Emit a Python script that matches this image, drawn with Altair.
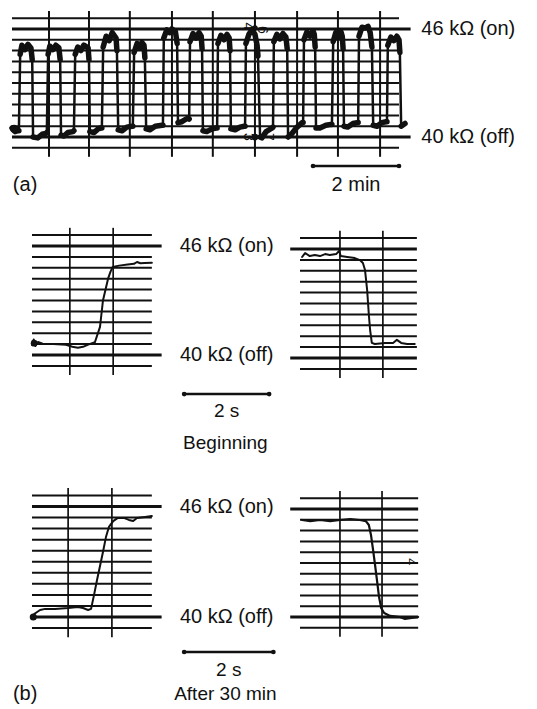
import altair as alt
import pandas as pd

# ---------------------------------------------------------------
# Resistance rulings of the recorder paper (kOhm) and reference levels
# ---------------------------------------------------------------
grid_kohm = [39.4, 40.0, 40.6, 41.2, 41.8, 42.4, 43.0, 43.6, 44.2, 44.8, 45.4, 46.0, 46.6]
ref_kohm = [46.0, 40.0]
ref_text = ["46 kΩ (on)", "40 kΩ (off)"]

# ---------------------------------------------------------------
# (a) long on/off recording: time in minutes, resistance in kOhm
# ---------------------------------------------------------------
a_min = [0.00, 0.07, 0.14,
         0.16, 0.19, 0.23, 0.30, 0.37, 0.44, 0.47, 0.49, 0.60, 0.70, 0.79,
         0.81, 0.84, 0.88, 0.95, 1.02, 1.09, 1.12, 1.14, 1.21, 1.30, 1.42,
         1.44, 1.47, 1.53, 1.60, 1.67, 1.77, 1.79, 1.81, 1.91, 2.00, 2.07,
         2.09, 2.12, 2.19, 2.26, 2.33, 2.42, 2.44, 2.47, 2.56, 2.67, 2.79,
         2.81, 2.84, 2.91, 2.98, 3.02, 3.07, 3.09, 3.12, 3.21, 3.33, 3.49,
         3.51, 3.53, 3.60, 3.67, 3.72, 3.80, 3.84, 3.86, 3.95, 4.05, 4.10,
         4.12, 4.14, 4.21, 4.28, 4.35, 4.40, 4.42, 4.44, 4.53, 4.65, 4.75,
         4.77, 4.79, 4.86, 4.93, 5.00, 5.05, 5.07, 5.09, 5.19, 5.30, 5.40,
         5.42, 5.44, 5.51, 5.58, 5.65, 5.70, 5.72, 5.77, 5.81, 5.91, 6.05,
         6.07, 6.09, 6.16, 6.23, 6.30, 6.37, 6.40, 6.42, 6.51, 6.63, 6.75,
         6.77, 6.79, 6.86, 6.93, 7.00, 7.03, 7.05, 7.07, 7.16, 7.30, 7.42,
         7.44, 7.47, 7.53, 7.60, 7.65, 7.68, 7.70, 7.72, 7.81, 7.93, 8.03,
         8.05, 8.07, 8.14, 8.21, 8.28, 8.33, 8.37, 8.40, 8.49, 8.60, 8.70,
         8.72, 8.74, 8.81, 8.88, 8.95, 9.00, 9.02, 9.05, 9.14]
a_kohm = [40.5, 40.3, 40.35,
          40.35, 44.6, 45.1, 44.85, 45.15, 44.95, 44.3, 40.0, 39.95, 40.15, 40.2,
          40.25, 44.6, 45.05, 44.85, 45.1, 44.95, 44.3, 40.1, 40.05, 40.25, 40.3,
          40.35, 44.6, 45.0, 44.8, 45.1, 44.95, 44.3, 40.3, 40.25, 40.45, 40.5,
          40.5, 45.0, 45.6, 45.35, 45.8, 45.5, 44.8, 40.4, 40.35, 40.55, 40.6,
          40.6, 44.7, 45.2, 44.95, 45.25, 45.1, 44.4, 40.45, 40.4, 40.6, 40.65,
          40.65, 45.5, 45.95, 45.8, 46.0, 45.85, 45.2, 40.8, 40.85, 41.0, 41.05,
          41.0, 45.3, 45.75, 45.5, 45.8, 45.6, 44.9, 40.35, 40.3, 40.45, 40.5,
          40.5, 45.2, 45.65, 45.4, 45.7, 45.5, 44.8, 40.45, 40.4, 40.55, 40.6,
          40.6, 45.2, 45.7, 45.95, 45.7, 45.1, 44.5, 40.0, 39.95, 40.3, 40.5,
          40.55, 45.3, 45.7, 45.45, 45.75, 45.55, 44.9, 40.0, 40.2, 40.55, 40.8,
          40.8, 45.4, 45.85, 45.6, 45.9, 45.7, 45.0, 40.5, 40.5, 40.65, 40.7,
          40.7, 45.3, 45.8, 45.55, 45.85, 45.6, 44.9, 40.6, 40.55, 40.75, 40.8,
          40.8, 45.6, 46.1, 46.05, 46.15, 45.8, 45.0, 40.65, 40.6, 40.8, 40.85,
          40.85, 45.1, 45.55, 45.35, 45.6, 45.4, 44.7, 40.6, 40.75]
a_vgrid_min = [0.86, 1.79, 2.74, 3.72, 4.67, 5.65, 6.63, 7.58, 8.56]

# ---------------------------------------------------------------
# (b) single transitions: time in seconds, resistance in kOhm
# ---------------------------------------------------------------
# beginning, switching on
b1_s = [0.00, 0.04, 0.08, 0.14, 0.25, 0.50, 0.80, 0.95, 1.08, 1.20, 1.35, 1.48,
        1.60, 1.67, 1.74, 1.79, 1.85, 1.90, 2.05, 2.25, 2.40, 2.47, 2.55, 2.65, 2.82]
b1_kohm = [40.55, 40.85, 40.5, 40.72, 40.62, 40.6, 40.56, 40.45, 40.4, 40.45, 40.6, 40.7,
           41.55, 43.0, 43.7, 44.2, 44.6, 44.85, 44.92, 44.98, 45.02, 45.12, 45.05, 45.06, 45.08]
b1_vgrid_s = [0.89, 1.91]

# beginning, switching off
b2_s = [0.05, 0.12, 0.23, 0.35, 0.47, 0.59, 0.70, 0.85, 0.92, 0.96, 1.11, 1.29, 1.41,
        1.48, 1.53, 1.58, 1.62, 1.65, 1.69, 1.76, 2.00, 2.19, 2.28, 2.38, 2.52, 2.70]
b2_kohm = [45.56, 45.78, 45.61, 45.67, 45.61, 45.72, 45.67, 45.72, 45.89, 45.61, 45.56, 45.5, 45.39,
           45.23, 44.84, 43.74, 42.37, 41.54, 40.83, 40.77, 40.83, 40.83, 41.0, 40.83, 40.77, 40.77]
b2_vgrid_s = [0.94, 1.95]

# after 30 min, switching on
b3_s = [0.00, 0.05, 0.12, 0.19, 0.31, 0.54, 0.85, 1.08, 1.20, 1.32, 1.39, 1.46, 1.53,
        1.60, 1.67, 1.74, 1.81, 1.91, 2.02, 2.16, 2.28, 2.38, 2.47, 2.66, 2.82]
b3_kohm = [39.9, 40.16, 40.27, 40.38, 40.44, 40.44, 40.49, 40.54, 40.49, 40.38, 40.44, 41.2, 42.01,
           42.77, 43.53, 44.34, 44.89, 45.21, 45.38, 45.38, 45.27, 45.21, 45.38, 45.43, 45.48]
b3_vgrid_s = [0.85, 1.88]

# after 30 min, switching off
b4_s = [0.05, 0.24, 0.47, 0.71, 0.94, 1.18, 1.41, 1.55, 1.62, 1.67, 1.72, 1.76, 1.81,
        1.86, 1.91, 1.98, 2.12, 2.35, 2.47, 2.59, 2.78]
b4_kohm = [45.39, 45.33, 45.39, 45.33, 45.39, 45.44, 45.39, 45.33, 45.11, 44.56, 43.72, 43.0, 42.06,
           41.11, 40.5, 40.22, 40.06, 40.0, 39.89, 39.94, 40.0]
b4_vgrid_s = [0.94, 1.93]

# ---------------------------------------------------------------
# styling / placement of the five recorder strips on the page
# ---------------------------------------------------------------
INK = "#111111"
FONT = "Liberation Sans"
PX_PER_MIN = 43.0
PX_PER_S = 42.5


def make_scales(x_dom, x_left, px_per_unit, y40, y46):
    sx = alt.Scale(domain=x_dom, nice=False, zero=False,
                   range=[x_left + x_dom[0] * px_per_unit, x_left + x_dom[1] * px_per_unit])
    sy = alt.Scale(domain=[40, 46], range=[y40, y46], nice=False, zero=False)
    return sx, sy


def ex(field, sx):
    return alt.X(field, type="quantitative", scale=sx, axis=None)


def ey(field, sy):
    return alt.Y(field, type="quantitative", scale=sy, axis=None)


def hrules(levels, x0, x1, sx, sy, width):
    df = pd.DataFrame({"R": levels, "x0": x0, "x1": x1})
    return alt.Chart(df).mark_rule(color=INK, strokeWidth=width).encode(
        x=ex("x0", sx), x2="x1", y=ey("R", sy))


def vrules(times, sx, sy, width=1.7):
    df = pd.DataFrame({"t": times, "lo": 38.9, "hi": 47.0})
    return alt.Chart(df).mark_rule(color=INK, strokeWidth=width).encode(
        x=ex("t", sx), y=ey("lo", sy), y2="hi")


def trace(ts, rs, sx, sy, width):
    df = pd.DataFrame({"t": ts, "R": rs, "i": range(len(ts))})
    return alt.Chart(df).mark_line(color=INK, strokeWidth=width, strokeJoin="round",
                                   strokeCap="round").encode(
        x=ex("t", sx), y=ey("R", sy), order="i:Q")


def blob(t, r, sx, sy, size=40):
    df = pd.DataFrame({"t": [t], "R": [r]})
    return alt.Chart(df).mark_circle(color=INK, opacity=1, size=size).encode(
        x=ex("t", sx), y=ey("R", sy))


def texts(ts, rs, labels, sx, sy, align="center", size=20, angle=0):
    df = pd.DataFrame({"t": ts, "R": rs, "label": labels})
    return alt.Chart(df).mark_text(font=FONT, fontSize=size, color=INK, align=align,
                                   baseline="middle", angle=angle).encode(
        x=ex("t", sx), y=ey("R", sy), text="label:N")


def scalebar(t0, t1, r, sx, sy):
    df = pd.DataFrame({"t0": [t0], "t1": [t1], "R": [r]})
    bar = alt.Chart(df).mark_rule(color=INK, strokeWidth=2.6).encode(
        x=ex("t0", sx), x2="t1", y=ey("R", sy))
    ends = pd.DataFrame({"t": [t0, t1], "R": [r, r]})
    dots = alt.Chart(ends).mark_circle(color=INK, opacity=1, size=22).encode(
        x=ex("t", sx), y=ey("R", sy))
    return [bar, dots]


def minor_levels():
    return [g for g in grid_kohm if g not in ref_kohm]


layers = []

# ---------------- (a) ----------------
sxa, sya = make_scales([0, 9.0], 12, PX_PER_MIN, 137, 29)
layers += [
    hrules(minor_levels(), 0, 9.0, sxa, sya, 2.0),
    hrules(ref_kohm, 0, 9.27, sxa, sya, 3.0),
    vrules(a_vgrid_min, sxa, sya, 2.0),
    trace(a_min, a_kohm, sxa, sya, 2.5),
]
# thicker ink where the pen dwells on the on/off plateaus
a_df = pd.DataFrame({"t": a_min, "R": a_kohm})
a_df["state"] = a_df["R"] > 43
a_df["g"] = (a_df["state"] != a_df["state"].shift()).cumsum()
a_df["i"] = range(len(a_df))
layers.append(
    alt.Chart(a_df).mark_line(color=INK, strokeWidth=5.5, strokeJoin="round", strokeCap="round").encode(
        x=ex("t", sxa), y=ey("R", sya), detail="g:N", order="i:Q"))
layers.append(blob(0.05, 40.45, sxa, sya, 70))
layers.append(blob(5.65, 46.05, sxa, sya, 30))
layers.append(blob(5.65, 40.0, sxa, sya, 45))
layers.append(texts([5.48, 5.82, 5.48, 5.95], [46.15, 45.95, 40.0, 40.0],
                    ["4", "6", "3", "7"], sxa, sya, size=14, angle=90))
layers.append(texts([9.52, 9.52], ref_kohm, ref_text, sxa, sya, align="left"))
layers += scalebar(7.0, 9.0, 38.39, sxa, sya)
layers.append(texts([8.0], [37.33], ["2 min"], sxa, sya))
layers.append(texts([0.02], [37.33], ["(a)"], sxa, sya, align="left"))

# ---------------- (b) beginning ----------------
sx1, sy1 = make_scales([0, 2.82], 32, PX_PER_S, 355, 246)
layers += [
    hrules(minor_levels(), 0, 2.82, sx1, sy1, 2.0),
    hrules(ref_kohm, 0, 3.05, sx1, sy1, 2.8),
    vrules(b1_vgrid_s, sx1, sy1),
    trace(b1_s, b1_kohm, sx1, sy1, 2.0),
    blob(0.05, 40.65, sx1, sy1, 45),
]
sx2, sy2 = make_scales([0, 2.75], 300, PX_PER_S, 358, 249)
layers += [
    hrules(minor_levels(), 0, 2.75, sx2, sy2, 2.0),
    hrules(ref_kohm, -0.23, 2.75, sx2, sy2, 2.8),
    vrules(b2_vgrid_s, sx2, sy2),
    trace(b2_s, b2_kohm, sx2, sy2, 2.0),
]
layers.append(texts([4.58, 4.58], ref_kohm, ref_text, sx1, sy1))
layers += scalebar(3.58, 5.58, 37.85, sx1, sy1)
layers.append(texts([4.58], [36.9], ["2 s"], sx1, sy1, size=19))
layers.append(texts([4.55], [35.16], ["Beginning"], sx1, sy1, size=19))

# ---------------- (b) after 30 min ----------------
sx3, sy3 = make_scales([0, 2.82], 32, PX_PER_S, 617, 506.5)
layers += [
    hrules(minor_levels(), 0, 2.82, sx3, sy3, 2.0),
    hrules(ref_kohm, 0, 3.05, sx3, sy3, 2.8),
    vrules(b3_vgrid_s, sx3, sy3),
    trace(b3_s, b3_kohm, sx3, sy3, 2.0),
    blob(0.03, 40.0, sx3, sy3, 50),
]
sx4, sy4 = make_scales([0, 2.78], 300, PX_PER_S, 617, 509)
layers += [
    hrules(minor_levels(), 0, 2.78, sx4, sy4, 2.0),
    hrules(ref_kohm, -0.23, 2.78, sx4, sy4, 2.8),
    vrules(b4_vgrid_s, sx4, sy4),
    trace(b4_s, b4_kohm, sx4, sy4, 2.2),
    texts([2.62], [43.06], ["4"], sx4, sy4, size=13, angle=90),
]
layers.append(texts([4.58, 4.58], ref_kohm, ref_text, sx3, sy3))
layers += scalebar(3.58, 5.68, 38.1, sx3, sy3)
layers.append(texts([4.63], [37.1], ["2 s"], sx3, sy3, size=19))
layers.append(texts([4.55], [35.83], ["After 30 min"], sx3, sy3, size=19))
layers.append(texts([-0.45], [35.83], ["(b)"], sx3, sy3, align="left"))

chart = alt.layer(*layers).resolve_scale(x="independent", y="independent").properties(
    width=537, height=709, padding=0, background="white",
    autosize=alt.AutoSizeParams(type="none"),
).configure_view(stroke=None)

chart.save("out.html", embed_options={"renderer": "svg", "actions": False})
